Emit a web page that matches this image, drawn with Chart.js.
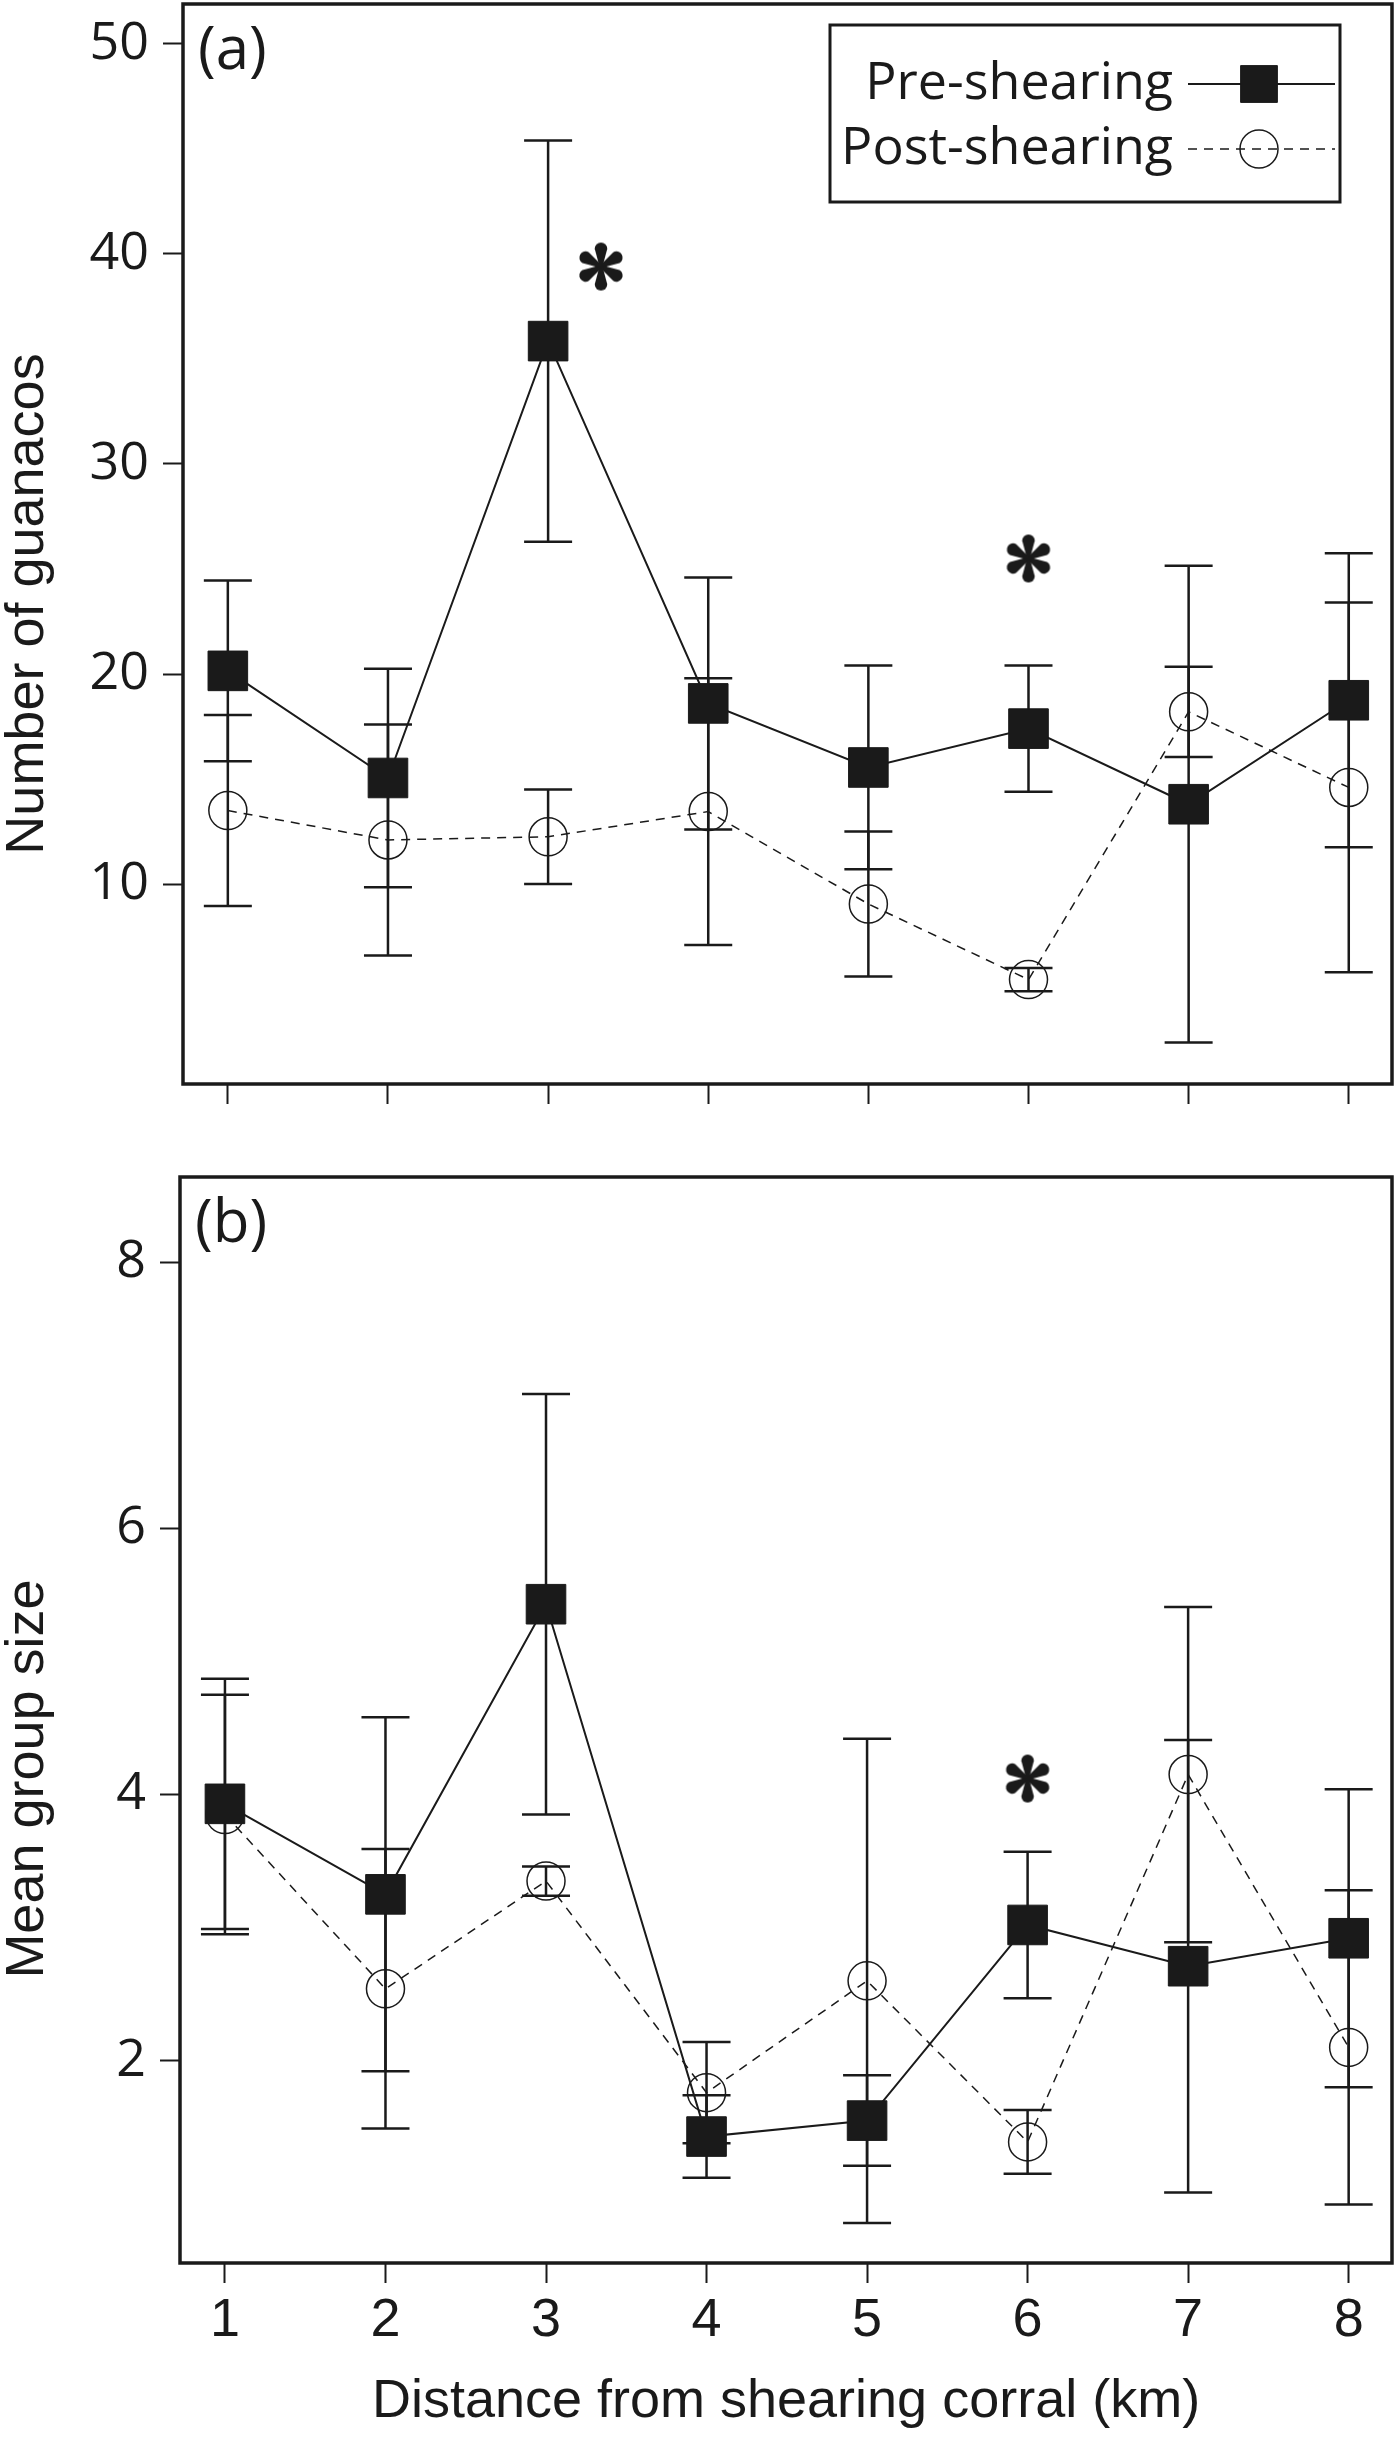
<!DOCTYPE html>
<html lang="en">
<head>
<meta charset="UTF-8">
<title>Guanacos - distance from shearing corral</title>
<script src="https://cdn.jsdelivr.net/npm/chart.js"></script>
<style>
    body {
        margin: 0;
        background: #ffffff;
    }
    #wrap {
        position: relative;
        width: 1400px;
        height: 2445px;
    }
    canvas {
        position: absolute;
        left: 0;
    }
    #chartA { top: 0; }
    #chartB { top: 1130px; }
</style>
</head>
<body>
<div id="wrap">
    <canvas id="chartA" width="1400" height="1130"></canvas>
    <canvas id="chartB" width="1400" height="1315"></canvas>
</div>

<script>
// distances (km) on the x axis
const distance = [1, 2, 3, 4, 5, 6, 7, 8];

// panel (a): number of guanacos, mean and error
const preCount     = [20.15, 15.05, 35.85, 18.6, 15.55, 17.4, 13.8, 18.75];
const preCountErr  = [4.3, 5.2, 9.55, 6.0, 4.85, 3.0, 11.35, 7.0];
const postCount    = [13.5, 12.1, 12.25, 13.45, 9.05, 5.45, 18.2, 14.6];
const postCountErr = [4.55, 5.5, 2.25, 6.35, 3.45, 0.55, 2.15, 8.8];

// panel (b): mean group size, mean and error
const preSize      = [3.93, 3.25, 5.43, 1.43, 1.55, 3.02, 2.71, 2.92];
const preSizeErr   = [0.94, 1.33, 1.58, 0.31, 0.34, 0.55, 1.70, 1.12];
const postSize     = [3.85, 2.54, 3.35, 1.76, 2.60, 1.39, 4.15, 2.10];
const postSizeErr  = [0.90, 1.05, 0.11, 0.38, 1.82, 0.24, 1.26, 1.18];

// significance marks (*)
const sigAX = [3.33, 6];
const sigAY = [39.4, 25.5];
const sigBX = [6];
const sigBY = [4.12];

// tick labels
const countTicks = [10, 20, 30, 40, 50];
const sizeTicks  = [2, 4, 6, 8];

const INK = '#1a1a1a';
const SANS = "'Liberation Sans', Arial, sans-serif";
const HUMANIST = "'Open Sans', 'Noto Sans', sans-serif";
const CAP = 24;

Chart.defaults.font.family = SANS;
Chart.defaults.color = INK;

function points(xs, ys) {
    return xs.map((x, i) => ({ x: x, y: ys[i] }));
}

// six-petal asterisk used for the significance marks
function makeAsterisk(size) {
    const c = document.createElement('canvas');
    c.width = size;
    c.height = size;
    const g = c.getContext('2d');
    const m = size / 2, r = size * 0.125, d = m - r - 1;
    g.fillStyle = INK;
    for (let k = 0; k < 6; k++) {
        const a = -Math.PI / 2 + k * Math.PI / 3;
        const cx = m + d * Math.cos(a), cy = m + d * Math.sin(a);
        g.beginPath();
        g.moveTo(m + 1.5 * Math.cos(a + Math.PI / 2), m + 1.5 * Math.sin(a + Math.PI / 2));
        g.lineTo(m + 1.5 * Math.cos(a - Math.PI / 2), m + 1.5 * Math.sin(a - Math.PI / 2));
        g.lineTo(cx + r * Math.cos(a - Math.PI / 2), cy + r * Math.sin(a - Math.PI / 2));
        g.arc(cx, cy, r, a - Math.PI / 2, a + Math.PI / 2);
        g.closePath();
        g.fill();
    }
    return c;
}
const asterisk = makeAsterisk(50);

const preStyle = {
    borderColor: INK,
    borderWidth: 2,
    pointStyle: 'rect',
    pointRadius: 28,
    pointBackgroundColor: INK,
    pointBorderColor: INK,
    pointBorderWidth: 1
};
const postStyle = {
    borderColor: INK,
    borderWidth: 1.5,
    borderDash: [9, 7],
    pointStyle: 'circle',
    pointRadius: 19,
    pointBackgroundColor: 'rgba(0,0,0,0)',
    pointBorderColor: INK,
    pointBorderWidth: 1.5
};

// error bars, frame, panel tag, y title and legend
const decor = {
    id: 'decor',
    beforeDatasetsDraw(chart) {
        const { ctx, scales: { x, y } } = chart;
        ctx.save();
        ctx.strokeStyle = INK;
        ctx.lineWidth = 2.5;
        chart.data.datasets.forEach(ds => {
            if (!ds.err) return;
            ds.data.forEach((p, i) => {
                const px = x.getPixelForValue(p.x);
                const top = y.getPixelForValue(p.y + ds.err[i]);
                const bot = y.getPixelForValue(p.y - ds.err[i]);
                ctx.beginPath();
                ctx.moveTo(px, top);
                ctx.lineTo(px, bot);
                ctx.moveTo(px - CAP, top);
                ctx.lineTo(px + CAP, top);
                ctx.moveTo(px - CAP, bot);
                ctx.lineTo(px + CAP, bot);
                ctx.stroke();
            });
        });
        ctx.restore();
    },
    afterDraw(chart, args, opts) {
        const { ctx, chartArea: a } = chart;
        ctx.save();
        ctx.strokeStyle = INK;
        ctx.lineWidth = 3.5;
        ctx.strokeRect(a.left, a.top, a.right - a.left, a.bottom - a.top);

        ctx.fillStyle = INK;
        ctx.font = '60px ' + HUMANIST;
        ctx.textAlign = 'left';
        ctx.textBaseline = 'alphabetic';
        ctx.fillText(opts.tag, a.left + 15, a.top + 65);

        ctx.save();
        ctx.translate(opts.titleX, opts.titleY);
        ctx.rotate(-Math.PI / 2);
        ctx.font = '54px ' + SANS;
        ctx.textAlign = 'center';
        ctx.textBaseline = 'middle';
        ctx.fillText(opts.title, 0, 0);
        ctx.restore();

        if (opts.legend) {
            const L = opts.legend;
            ctx.lineWidth = 3;
            ctx.strokeRect(L.x, L.y, L.w, L.h);
            const rows = chart.data.datasets.filter(ds => ds.inLegend);
            rows.forEach((ds, i) => {
                const ry = L.y + L.row0 + i * L.rowGap;
                ctx.font = '52px ' + HUMANIST;
                ctx.textAlign = 'right';
                ctx.textBaseline = 'middle';
                ctx.fillStyle = INK;
                ctx.fillText(ds.label, L.textRight, ry);
                ctx.beginPath();
                ctx.strokeStyle = INK;
                ctx.setLineDash(ds.borderDash || []);
                ctx.lineWidth = ds.borderWidth;
                ctx.moveTo(L.lineL, ry);
                ctx.lineTo(L.lineR, ry);
                ctx.stroke();
                ctx.setLineDash([]);
                ctx.fillStyle = ds.pointBackgroundColor;
                ctx.strokeStyle = ds.pointBorderColor;
                ctx.lineWidth = ds.pointBorderWidth;
                Chart.helpers.drawPoint(ctx, {
                    pointStyle: ds.pointStyle,
                    radius: ds.pointStyle === 'rect' ? 26 : 19,
                    rotation: 0,
                    borderWidth: ds.pointBorderWidth
                }, L.marker, ry);
            });
        }
        ctx.restore();
    }
};

function tickGrid() {
    return {
        display: true,
        drawOnChartArea: false,
        drawTicks: true,
        tickLength: 20,
        tickWidth: 2,
        tickColor: INK
    };
}

function buildPanel(id, cfg) {
    return new Chart(document.getElementById(id), {
        type: 'line',
        data: {
            datasets: [
                Object.assign({ label: 'Pre-shearing', inLegend: true,
                    data: points(distance, cfg.pre), err: cfg.preErr }, preStyle),
                Object.assign({ label: 'Post-shearing', inLegend: true,
                    data: points(distance, cfg.post), err: cfg.postErr }, postStyle),
                {
                    type: 'scatter',
                    label: 'significant',
                    data: points(cfg.sigX, cfg.sigY),
                    showLine: false,
                    pointStyle: asterisk,
                    pointRadius: 25
                }
            ]
        },
        options: {
            responsive: false,
            animation: false,
            events: [],
            layout: {
                autoPadding: false,
                padding: { top: cfg.padTop, right: 8, bottom: 0, left: 0 }
            },
            plugins: {
                legend: { display: false },
                tooltip: { enabled: false },
                decor: {
                    tag: cfg.tag,
                    title: cfg.yTitle,
                    titleX: 28,
                    titleY: cfg.titleY,
                    legend: cfg.legend
                }
            },
            scales: {
                x: {
                    type: 'linear',
                    min: 0.72,
                    max: 8.27,
                    afterBuildTicks: s => { s.ticks = distance.map(v => ({ value: v })); },
                    afterFit: s => {
                        s.height = cfg.xHeight;
                        s.paddingLeft = 0;
                        s.paddingRight = 0;
                    },
                    grid: tickGrid(),
                    border: { display: false },
                    ticks: {
                        display: cfg.xLabels,
                        font: { family: SANS, size: 54 },
                        color: INK,
                        padding: 6,
                        maxRotation: 0,
                        autoSkip: false
                    },
                    title: {
                        display: cfg.xLabels,
                        text: 'Distance from shearing corral (km)',
                        font: { family: SANS, size: 54 },
                        color: INK,
                        padding: { top: 10, bottom: 10 }
                    }
                },
                y: {
                    type: 'linear',
                    min: cfg.yMin,
                    max: cfg.yMax,
                    afterBuildTicks: s => { s.ticks = cfg.yTicks.map(v => ({ value: v })); },
                    afterFit: s => {
                        s.width = cfg.yWidth;
                        s.paddingTop = 0;
                        s.paddingBottom = 0;
                    },
                    grid: tickGrid(),
                    border: { display: false },
                    ticks: {
                        font: { family: HUMANIST, size: 52 },
                        color: INK,
                        padding: 14
                    }
                }
            }
        },
        plugins: [decor]
    });
}

buildPanel('chartA', {
    pre: preCount, preErr: preCountErr,
    post: postCount, postErr: postCountErr,
    sigX: sigAX, sigY: sigAY,
    yMin: 0.48, yMax: 51.9, yTicks: countTicks,
    yWidth: 183, xHeight: 46, xLabels: false, padTop: 4,
    tag: '(a)', yTitle: 'Number of guanacos', titleY: 604,
    legend: { x: 830, y: 25, w: 510, h: 177, row0: 59, rowGap: 65,
              textRight: 1173, lineL: 1188, lineR: 1335, marker: 1259 }
});

buildPanel('chartB', {
    pre: preSize, preErr: preSizeErr,
    post: postSize, postErr: postSizeErr,
    sigX: sigBX, sigY: sigBY,
    yMin: 0.48, yMax: 8.64, yTicks: sizeTicks,
    yWidth: 180, xHeight: 182, xLabels: true, padTop: 47,
    tag: '(b)', yTitle: 'Mean group size', titleY: 649,
    legend: null
});
</script>
</body>
</html>
